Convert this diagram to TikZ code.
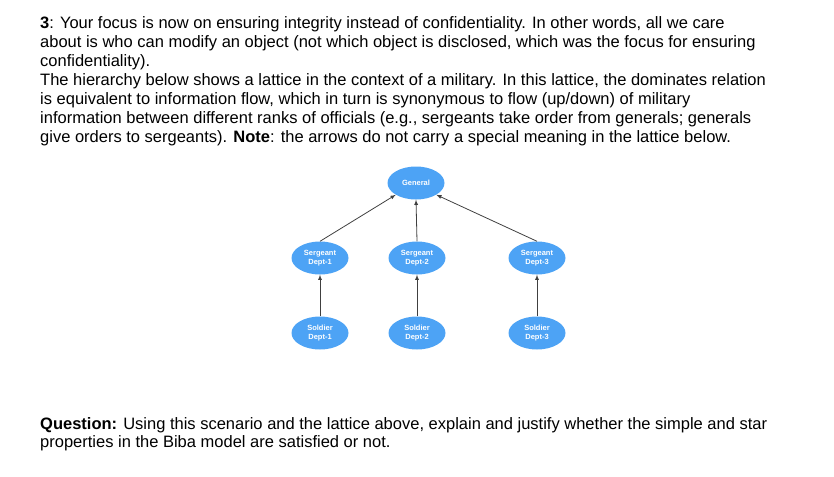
\documentclass[tikz,border=0pt]{standalone}
\usepackage{fontspec}
\setmainfont{Liberation Sans}
\usetikzlibrary{shapes.geometric}
\definecolor{bubc}{HTML}{4DA3F5}
\begin{document}
\begin{tikzpicture}[x=1pt,y=-1pt,
 txt/.style={anchor=base west,inner sep=0pt,font=\fontsize{16.5}{19}\selectfont},
 bub/.style={ellipse,fill=bubc,minimum width=57pt,minimum height=33pt,inner sep=0pt,align=center,text=white,font=\fontsize{7.5}{8.5}\selectfont\bfseries},
 arr/.style={draw=black!75,line width=0.8pt,-latex}]
\useasboundingbox (0,0) rectangle (834,476);
\node[txt] (l1) at (40,28.5) {\textbf{3}: Your focus is now on ensuring integrity instead of confidentiality. In other words, all we care};
\node[txt] (l2) at (40,47.5) {about is who can modify an object (not which object is disclosed, which was the focus for ensuring};
\node[txt] (l3) at (40,66.5) {confidentiality).};
\node[txt] (l4) at (40,85.5) {The hierarchy below shows a lattice in the context of a military. In this lattice, the dominates relation};
\node[txt] (l5) at (40,104.5) {is equivalent to information flow, which in turn is synonymous to flow (up/down) of military};
\node[txt] (l6) at (40,123.5) {information between different ranks of officials (e.g., sergeants take order from generals; generals};
\node[txt] (l7) at (40,142.5) {give orders to sergeants). \textbf{Note}: the arrows do not carry a special meaning in the lattice below.};
\node[txt] (q1) at (40,429) {\textbf{Question:} Using this scenario and the lattice above, explain and justify whether the simple and star};
\node[txt] (q2) at (40,447.5) {properties in the Biba model are satisfied or not.};
\node[bub] (g) at (416,183) {General};
\node[bub] (s1) at (320,258) {Sergeant\\Dept-1};
\node[bub] (s2) at (417,258) {Sergeant\\Dept-2};
\node[bub] (s3) at (537,258) {Sergeant\\Dept-3};
\node[bub] (d1) at (320,333) {Soldier\\Dept-1};
\node[bub] (d2) at (417,333) {Soldier\\Dept-2};
\node[bub] (d3) at (537,333) {Soldier\\Dept-3};
\draw[arr] (s1.north) -- (g.south west);
\draw[arr] (s2.north) -- (g.south);
\draw[arr] (s3.north) -- (g.south east);
\draw[arr] (d1) -- (s1);
\draw[arr] (d2) -- (s2);
\draw[arr] (d3) -- (s3);
\end{tikzpicture}
\end{document}
